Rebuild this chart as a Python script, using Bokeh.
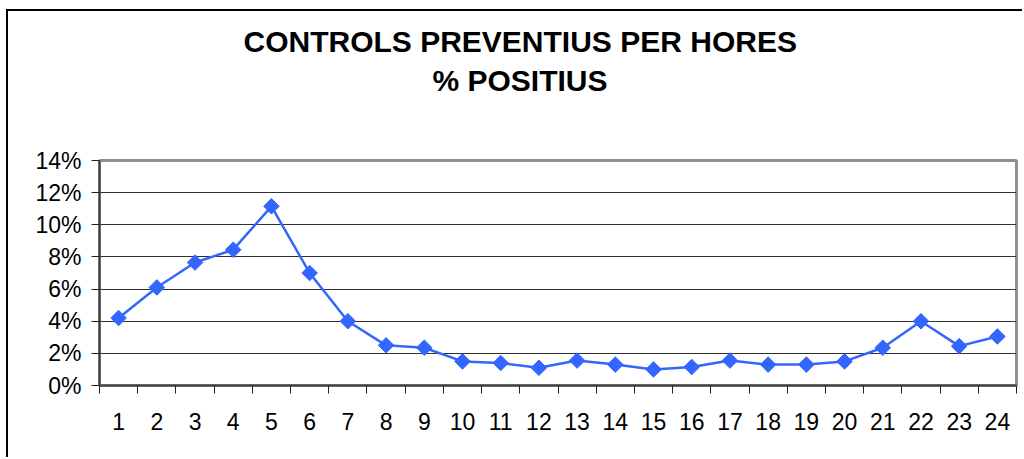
from bokeh.plotting import figure
from bokeh.models import FixedTicker, NumeralTickFormatter, Range1d, Title
from bokeh.embed import file_html
from bokeh.resources import INLINE

hours = list(range(1, 25))
positius = [0.042, 0.061, 0.0765, 0.0845, 0.1115, 0.070, 0.040, 0.025, 0.0235,
            0.015, 0.014, 0.011, 0.0155, 0.013, 0.010, 0.0115, 0.0155, 0.013,
            0.013, 0.015, 0.0235, 0.040, 0.0245, 0.0305]
y_ticks = [0.0, 0.02, 0.04, 0.06, 0.08, 0.10, 0.12, 0.14]
title_lines = ["CONTROLS PREVENTIUS PER HORES", "% POSITIUS"]

W, H = 1016, 448
p = figure(width=W, height=H, output_backend="svg", toolbar_location=None,
           x_range=Range1d(0.5, 24.5), y_range=Range1d(0, 0.14),
           min_border_left=91, min_border_right=8, min_border_top=149,
           min_border_bottom=74)
p.styles = {"margin-left": "6px", "margin-top": "9px",
            "border-left": "2px solid black", "border-top": "2px solid black"}

p.line(hours, positius, line_color="#3366FF", line_width=2.5)
p.scatter(hours, positius, marker="square", angle=0.7853981634, size=11,
          fill_color="#3366FF", line_color="#3366FF")

# axes
xt = FixedTicker(ticks=hours, minor_ticks=[h - 0.5 for h in hours] + [hours[-1] + 0.5])
p.xaxis.ticker = xt
p.xaxis.major_tick_line_color = None
p.xaxis.minor_tick_line_color = "#202020"
p.xaxis.minor_tick_out = 8
p.xaxis.minor_tick_in = 0
p.xaxis.major_label_standoff = 19
p.xaxis.major_label_text_font = "Liberation Sans"
p.xaxis.major_label_text_font_size = "23px"
p.xaxis.major_label_text_color = "black"
p.xaxis.axis_line_color = "#404040"
p.xaxis.axis_line_width = 2

p.yaxis.ticker = FixedTicker(ticks=y_ticks)
p.yaxis.formatter = NumeralTickFormatter(format="0%")
p.yaxis.minor_tick_line_color = None
p.yaxis.major_tick_out = 8
p.yaxis.major_tick_in = 0
p.yaxis.major_tick_line_color = "#202020"
p.yaxis.major_label_standoff = 10
p.yaxis.major_label_text_font = "Liberation Sans"
p.yaxis.major_label_text_font_size = "23px"
p.yaxis.major_label_text_color = "black"
p.yaxis.axis_line_color = "#404040"
p.yaxis.axis_line_width = 2

p.xgrid.grid_line_color = None
p.ygrid.ticker = FixedTicker(ticks=y_ticks)
p.ygrid.grid_line_color = "#303030"
p.ygrid.grid_line_width = 1

p.outline_line_color = "#909090"
p.outline_line_width = 3

# two-line title
def style_title(t, offset):
    t.align = "left"
    t.offset = offset
    t.text_font = "Liberation Sans"
    t.text_font_style = "bold"
    t.text_font_size = "30px"
    t.text_color = "black"
    t.standoff = 4

# empty spacer between the frame and the title block
spacer = Title(text=" ", text_font_size="40px", standoff=16, text_color="white")
p.add_layout(spacer, "above")
t2 = Title(text=title_lines[1])
style_title(t2, 333)
p.add_layout(t2, "above")
p.title.text = title_lines[0]
style_title(p.title, 144)

open("out.html", "w").write(file_html(p, INLINE))
